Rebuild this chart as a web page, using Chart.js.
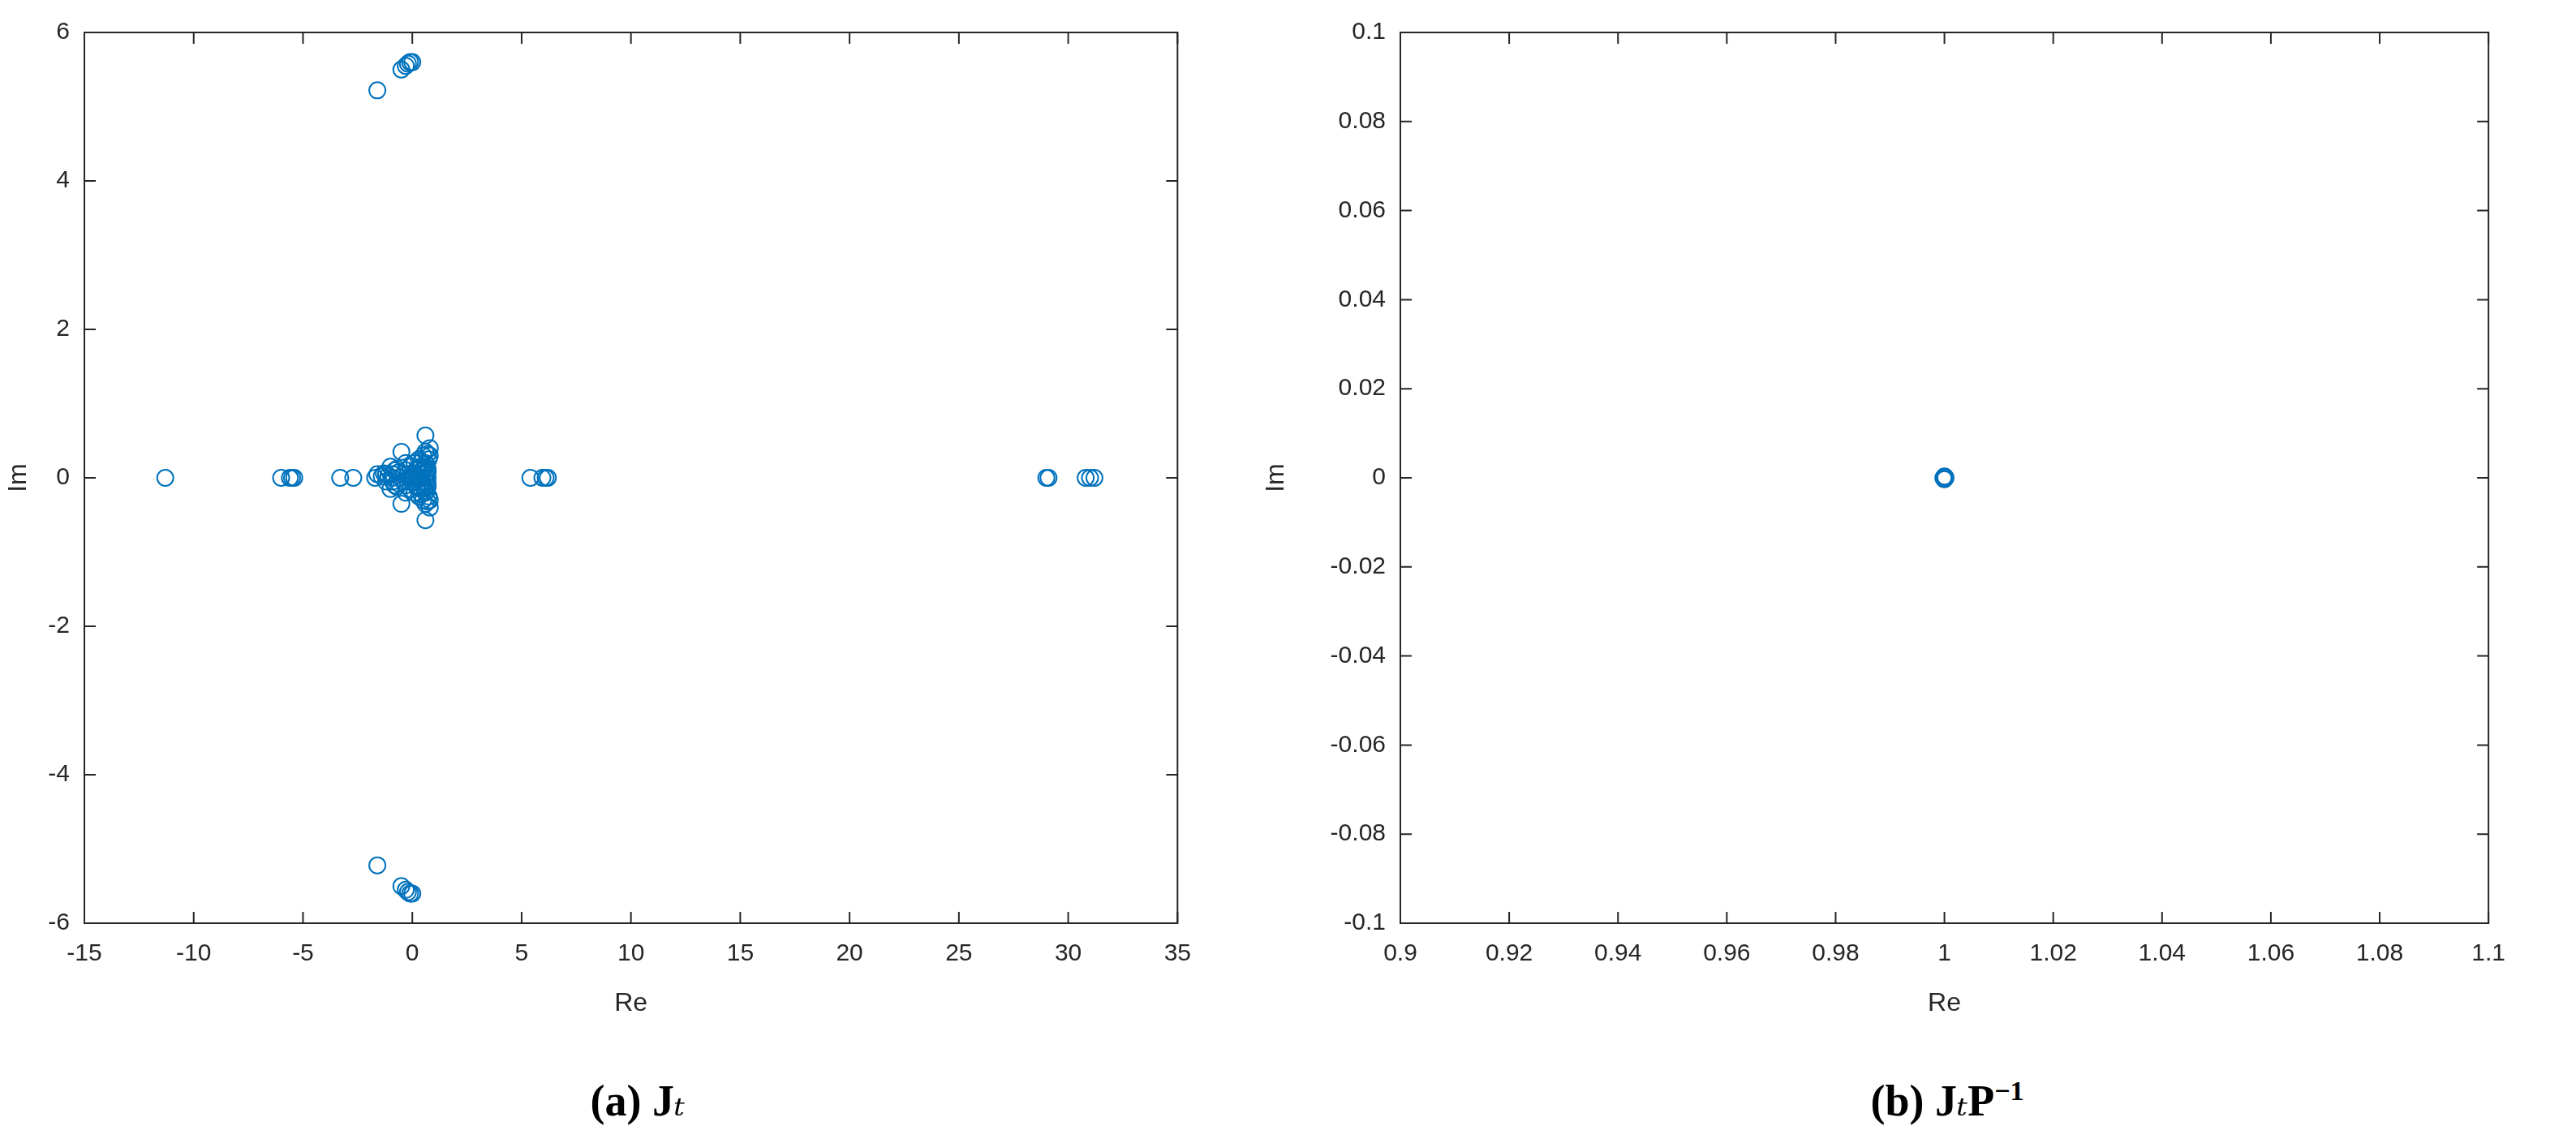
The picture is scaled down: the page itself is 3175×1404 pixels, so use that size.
<!DOCTYPE html>
<html><head><meta charset="utf-8">
<script src="https://cdn.jsdelivr.net/npm/chart.js@4.4.0/dist/chart.umd.min.js"></script>
<style>
html,body{margin:0;padding:0;background:#fff;width:3175px;height:1404px;overflow:hidden;position:relative}
canvas{position:absolute}
.cap{position:absolute;top:1325px;font-family:"Liberation Serif","DejaVu Serif",serif;font-weight:bold;font-size:54px;color:#000;transform:translateX(-50%);white-space:nowrap}
</style></head><body>
<canvas id="c1" style="left:0;top:0"></canvas>
<canvas id="c2" style="left:1550px;top:0"></canvas>
<div class="cap" style="left:786px">(a) J<i style="font-weight:normal">ₜ</i></div>
<div class="cap" style="left:2400px">(b) J<i style="font-weight:normal">ₜ</i>P<sup style="font-size:34px">−1</sup></div>
<script>
// Left panel eigenvalues (Re, Im)
const leftRe = [-11.3,-6.0,-5.6,-5.5,-5.4,-3.3,-2.7,-1.7,-1.6,5.4,5.95,6.1,6.2,29.0,29.1,30.8,31.0,31.2,
 -1.6,-0.5,-0.3,-0.2,-0.1,0.0,-1.6,-0.5,-0.3,-0.2,-0.1,0.0,
 0.6,0.6,0.8,0.8,0.7,0.7,0.75,0.75,0.6,0.6,0.7,0.7,0.65,0.65,0.8,0.8,0.7,0.6,
 -0.5,-0.5,-0.3,-0.3,-0.1,-0.1,0.1,0.1,0.3,0.3,-0.8,-0.8,-1.0,-1.0,-1.2,-1.2,-0.6,-0.6,-0.2,-0.2,0.2,0.2,0.4,0.4,-0.4,-0.4,0.0,0.0,-1.4,-0.9,0.5,0.5,0.3,-0.1,
 0.55,0.55,0.65,0.65,0.5,0.5,0.4,0.4,0.2,0.2,-0.7,-0.7,-0.9,-0.9,-0.3,-0.3,0.1,0.1,0.7,0.7,0.6,0.6,-1.1,-1.3,0.45,0.45];
const leftIm = [0,0,0,0,0,0,0,0,0.05,0,0,0,0,0,0,0,0,0,
 5.22,5.5,5.55,5.58,5.6,5.6,-5.22,-5.5,-5.55,-5.58,-5.6,-5.6,
 0.57,-0.57,0.4,-0.4,0.32,-0.32,0.25,-0.25,0.2,-0.2,0.12,-0.12,0.06,-0.06,0.3,-0.3,0,0,
 0.35,-0.35,0.2,-0.2,0.15,-0.15,0.2,-0.2,0.25,-0.25,0.1,-0.1,0.15,-0.15,0.05,-0.05,0.08,-0.08,0.05,-0.05,0.1,-0.1,0.15,-0.15,0.05,-0.05,0.02,-0.02,0.02,0,0.1,-0.1,0,0,
 0.15,-0.15,0.18,-0.18,0.3,-0.3,0.22,-0.22,0.12,-0.12,0.12,-0.12,0.05,-0.05,0.1,-0.1,0.06,-0.06,0.08,-0.08,0.35,-0.35,0.03,0.06,0.05,-0.05];
// Right panel eigenvalues (preconditioned), clustered at 1
const rightRe = [1.0,1.0002,0.9998,1.0,1.0,1.0001,0.9999];
const rightIm = [0,0,0,0.0003,-0.0003,0.0002,-0.0002];
const leftXTicks = [-15,35,5], leftYTicks = [-6,6,2];
const rightXTicks = [0.9,1.1,0.02], rightYTicks = [-0.1,0.1,0.02];

const col = '#0072BD', axCol = '#262626';
const fmt = v => String(Number(v.toFixed(2)));
const boxPlugin = {
  id:'box',
  afterDraw(ch){
    const {ctx, chartArea:a, scales:{x,y}} = ch;
    ctx.save(); ctx.strokeStyle=axCol; ctx.lineWidth=2;
    ctx.strokeRect(a.left,a.top,a.right-a.left,a.bottom-a.top);
    const L=14;
    x.ticks.forEach(t=>{const p=x.getPixelForValue(t.value);
      ctx.beginPath();ctx.moveTo(p,a.bottom);ctx.lineTo(p,a.bottom-L);ctx.moveTo(p,a.top);ctx.lineTo(p,a.top+L);ctx.stroke();});
    y.ticks.forEach(t=>{const p=y.getPixelForValue(t.value);
      ctx.beginPath();ctx.moveTo(a.left,p);ctx.lineTo(a.left+L,p);ctx.moveTo(a.right,p);ctx.lineTo(a.right-L,p);ctx.stroke();});
    ctx.restore();
  }
};
function make(id,w,h,re,im,xt,yt,yw,pad){
  const cv=document.getElementById(id); cv.width=w; cv.height=h; cv.style.width=w+'px'; cv.style.height=h+'px';
  const pts=re.map((r,i)=>({x:r,y:im[i]}));
  const font={family:'"Liberation Sans",Arial,sans-serif',size:30};
  new Chart(cv,{type:'scatter',
    data:{datasets:[{data:pts,pointStyle:'circle',pointRadius:10,pointBorderWidth:2,borderColor:col,backgroundColor:'rgba(0,0,0,0)'}]},
    options:{responsive:false,animation:false,devicePixelRatio:1,
      layout:{padding:{top:40,right:pad,left:0,bottom:0}},
      plugins:{legend:{display:false},tooltip:{enabled:false}},
      scales:{
        x:{type:'linear',min:xt[0],max:xt[1],border:{display:false},
          grid:{display:false},
          ticks:{stepSize:xt[2],color:axCol,font,padding:12,maxRotation:0,callback:fmt},
          title:{display:true,text:'Re',color:axCol,font:{...font,size:32},padding:{top:4}},
          afterFit:s=>{s.height=h-1138}},
        y:{type:'linear',min:yt[0],max:yt[1],border:{display:false},
          grid:{display:false},
          ticks:{stepSize:yt[2],color:axCol,font,padding:10,callback:fmt},
          title:{display:true,text:'Im',color:axCol,font:{...font,size:32},padding:{bottom:4}},
          afterFit:s=>{s.width=yw}}
      }},
    plugins:[boxPlugin]});
}
make('c1',1480,1260,leftRe,leftIm,leftXTicks,leftYTicks,104,20);
make('c2',1550,1260,rightRe,rightIm,rightXTicks,rightYTicks,176,20);
</script></body></html>
